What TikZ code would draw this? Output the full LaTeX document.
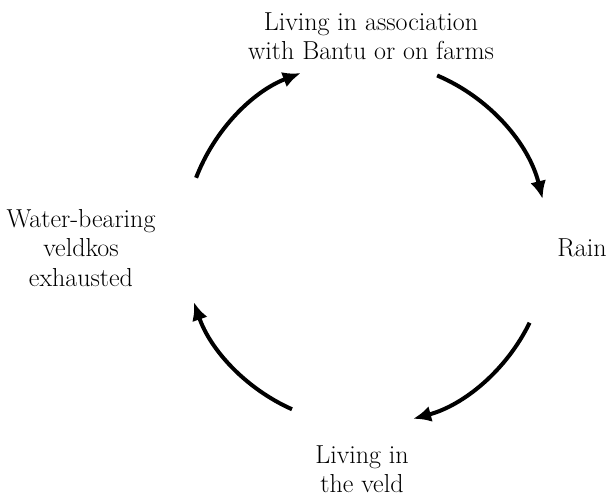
\documentclass[tikz,border=0pt]{standalone}
\usepackage{tikz}
\usetikzlibrary{arrows.meta,positioning,calc}

\begin{document}
\begin{tikzpicture}[
        x=1pt, y=1pt,
        label/.style={align=center, font=\fontsize{26}{29.5}\selectfont, inner sep=0pt},
        arr/.style={-{Latex[length=18pt,width=16pt]}, line width=4pt}
    ]
        \useasboundingbox (0,0) rectangle (610,497);
        % Cycle stages
        \node[label] (assoc) at (371,461) {Living in association\\with Bantu or on farms};
        \node[label] (rain) at (582,249) {Rain};
        \node[label] (veld) at (362,28) {Living in\\the veld};
        \node[label] (exhausted) at (81,249) {Water-bearing\\veldkos\\exhausted};
        
        % Centre of the cycle
        \coordinate (c) at (366,254);
        
        % Arrows
        \draw[arr] (c) ++(67:182) arc[start angle=67, end angle=14, radius=182];
        \draw[arr] (c) ++(-26:182) arc[start angle=-26, end angle=-75, radius=182];
        \draw[arr] (c) ++(-114:182) arc[start angle=-114, end angle=-161, radius=182];
        \draw[arr] (c) ++(159:182) arc[start angle=159, end angle=111, radius=182];
    \end{tikzpicture}
\end{document}
